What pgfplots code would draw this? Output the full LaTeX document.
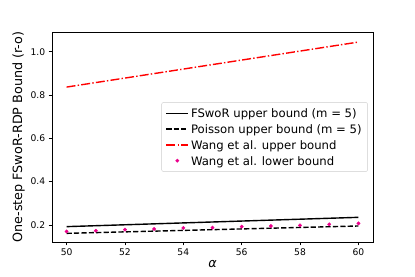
\documentclass[border=0pt]{standalone}
\usepackage{pgfplots}
\pgfplotsset{compat=1.18}
\usepackage{fontspec}
\setmainfont{DejaVu Sans}
\begin{document}
\begin{tikzpicture}
\path (-52bp,-35bp) rectangle (363bp,242bp);
\begin{axis}[
  at={(0,0)}, anchor=south west,
  scale only axis, width=321bp, height=210bp,
  xmin=49.5, xmax=60.5, ymin=0.121, ymax=1.0915,
  xtick={50,52,...,60}, ytick={0.2,0.4,0.6,0.8,1.0},
  yticklabel style={/pgf/number format/.cd,fixed,fixed zerofill,precision=1},
  /pgf/number format/assume math mode=true,
  tick align=outside, tick pos=left,
  major tick length=3.3bp,
  every tick/.style={black, line width=0.75bp},
  axis line style={line width=0.75bp},
  tick label style={font=\fontsize{9.2}{11}\selectfont},
  label style={font=\fontsize{12.8}{15}\selectfont},
  xlabel={\itshape α},
  xlabel style={yshift=2bp},
  ylabel={One-step FSwoR-RDP Bound (r-o)},
  ylabel style={yshift=-1bp},
  legend style={at={(0.984,0.5)}, anchor=east, draw=black!20, rounded corners=2bp,
    fill=white,
    font=\fontsize{11.7}{13}\selectfont, inner xsep=4bp, inner ysep=3bp},
  legend cell align=left,
  legend image code/.code={\draw[mark repeat=2,mark phase=2] plot coordinates {(0bp,0bp) (11bp,0bp) (22bp,0bp)};},
]
\addplot[black, line width=1.4bp] coordinates {(50,0.192) (60,0.235)};
\addlegendentry{FSwoR upper bound (m = 5)\rule[-4.3bp]{0pt}{14.6bp}}
\addplot[black, line width=1.4bp, dash pattern=on 5.2bp off 2.2bp] coordinates {(50,0.161) (60,0.195)};
\addlegendentry{Poisson upper bound (m = 5)\rule[-4.3bp]{0pt}{14.6bp}}
\addplot[red, line width=1.4bp, dash pattern=on 9bp off 2.2bp on 1.4bp off 2.2bp] coordinates {(50,0.837) (60,1.045)};
\addlegendentry{Wang et al. upper bound\rule[-4.3bp]{0pt}{14.6bp}}
\addplot[only marks, mark=*, mark size=1.7bp, color=magenta, mark options={draw=magenta, fill=magenta}] coordinates {
(50,0.170) (51,0.173) (52,0.178) (53,0.181) (54,0.186) (55,0.187) (56,0.192) (57,0.195) (58,0.198) (59,0.203) (60,0.207)};
\addlegendentry{Wang et al. lower bound\rule[-4.3bp]{0pt}{14.6bp}}
\node[anchor=south west, inner sep=0pt, font=\fontsize{9.2}{11}\selectfont] at (rel axis cs:0,1) [yshift=2.5bp] {1e\textminus 4};
\end{axis}
\end{tikzpicture}
\end{document}
